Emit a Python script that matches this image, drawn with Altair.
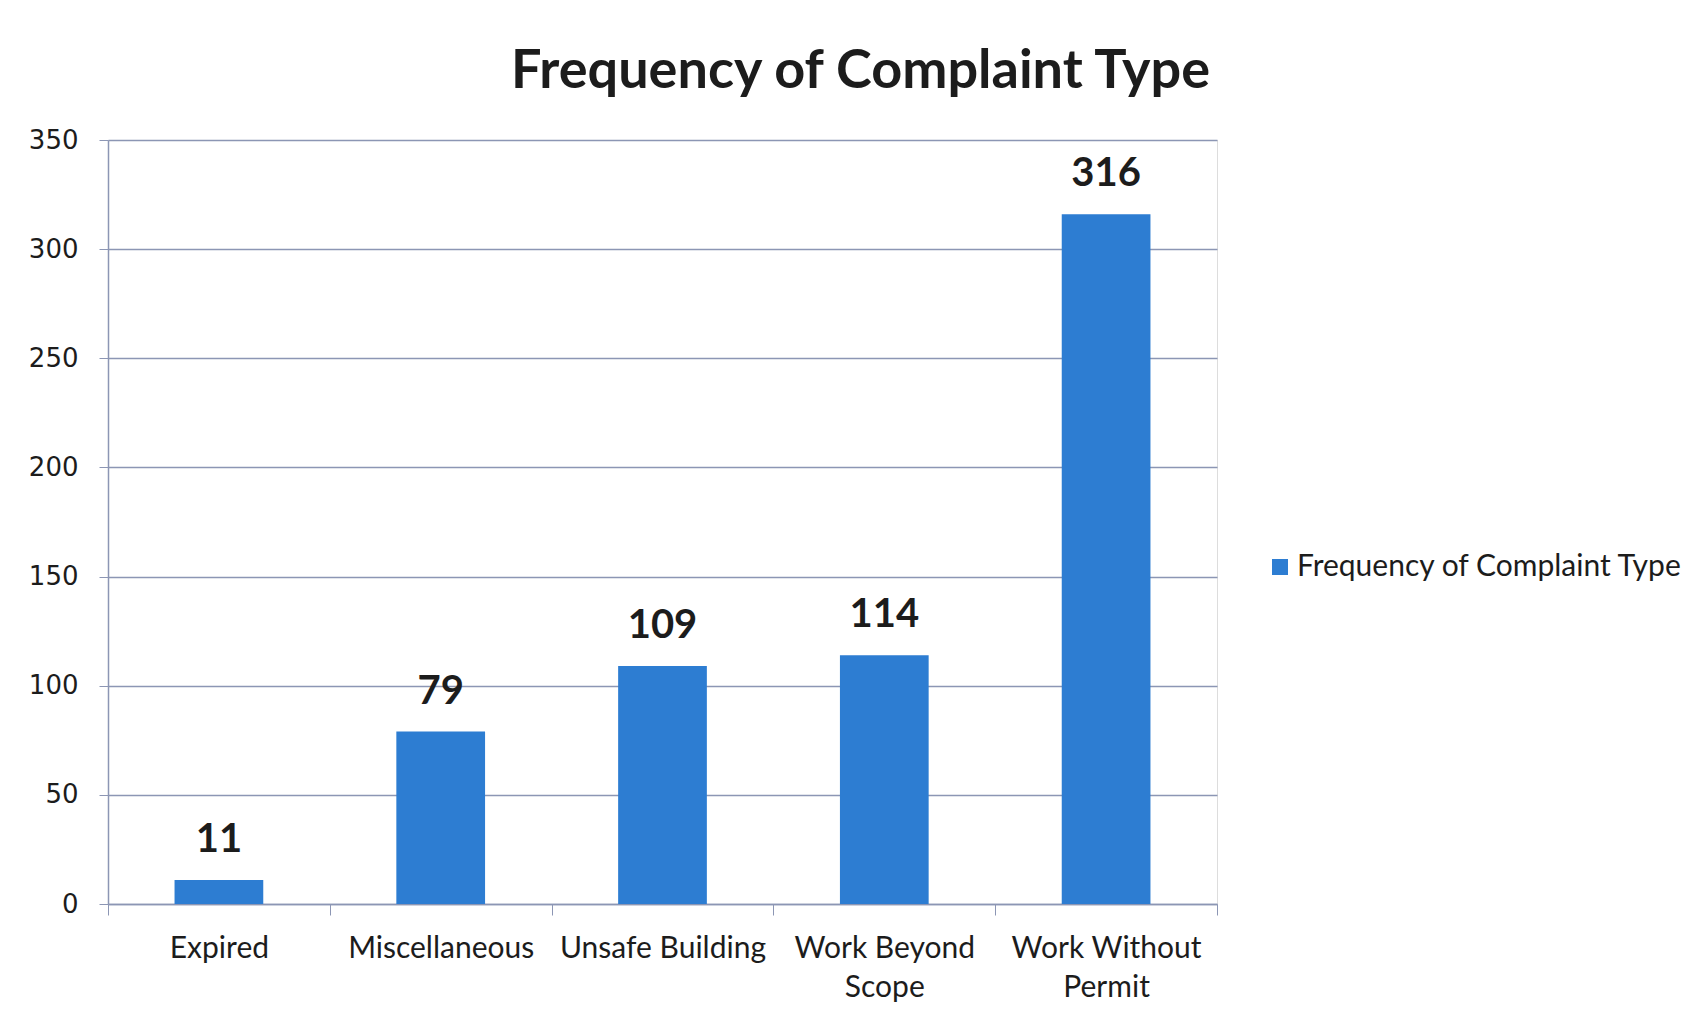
import altair as alt
import pandas as pd

categories = ["Expired", "Miscellaneous", "Unsafe Building", "Work Beyond Scope", "Work Without Permit"]
counts = [11, 79, 109, 114, 316]
series_name = "Frequency of Complaint Type"
y_ticks = [0, 50, 100, 150, 200, 250, 300, 350]
label_lines = {
    "Work Beyond Scope": ["Work Beyond", "Scope"],
    "Work Without Permit": ["Work Without", "Permit"],
}

df = pd.DataFrame({"category": categories, "count": counts, "series": [series_name] * len(categories)})

expr = "datum.label"
for k, v in label_lines.items():
    arr = "[" + ",".join("'" + s + "'" for s in v) + "]"
    expr = f"datum.label == '{k}' ? {arr} : ({expr})"

BAR = "#2D7DD2"
GRID = "#8C96B4"
TXT = "#1c1c1c"

x = alt.X(
    "category:N",
    sort=categories,
    title=None,
    scale=alt.Scale(paddingInner=0, paddingOuter=0),
    axis=alt.Axis(
        labelAngle=0,
        labelFont="Lato",
        labelFontSize=30,
        labelColor=TXT,
        labelPadding=18,
        labelLineHeight=39,
        labelLimit=0,
        labelExpr=expr,
        tickBand="extent",
        tickSize=11,
        tickColor=GRID,
        domainColor=GRID,
        domainWidth=1.5,
        grid=False,
    ),
)

y = alt.Y(
    "count:Q",
    title=None,
    scale=alt.Scale(domain=[0, 350], nice=False),
    axis=alt.Axis(
        values=y_ticks,
        labelFont="DejaVu Sans",
        labelFontSize=26,
        labelColor=TXT,
        labelPadding=21,
        tickSize=9,
        tickColor=GRID,
        domainColor=GRID,
        domainWidth=1.5,
        gridColor=GRID,
        gridWidth=1.5,
    ),
)

bars = alt.Chart(df).mark_bar(width=alt.RelativeBandSize(0.4), color=BAR).encode(
    x=x,
    y=y,
    color=alt.Color(
        "series:N",
        scale=alt.Scale(range=[BAR]),
        legend=alt.Legend(
            title=None,
            orient="none",
            legendX=1157,
            legendY=412,
            symbolType="square",
            symbolSize=256,
            symbolStrokeWidth=0,
            labelFont="Lato",
            labelFontSize=30,
            labelLimit=0,
            labelColor=TXT,
            labelOffset=2,
        ),
    ),
)

labels = alt.Chart(df).mark_text(
    font="Lato", fontSize=40, fontWeight="bold", color=TXT, baseline="bottom", dy=-20
).encode(x=alt.X("category:N", sort=categories), y="count:Q", text="count:Q")

chart = (
    alt.layer(bars, labels)
    .properties(
        width=1109,
        height=764,
        padding={"left": 20, "top": 37, "right": 10, "bottom": 10},
        title=alt.TitleParams(
            "Frequency of Complaint Type",
            font="Lato",
            fontSize=54,
            fontWeight="bold",
            color=TXT,
            anchor="middle",
            dx=198,
            offset=-26,
            baseline="bottom",
        ),
    )
    .configure_view(strokeOpacity=0)
    .configure(background="white")
)

chart.save("out.html", embed_options={"renderer": "svg", "actions": False})
